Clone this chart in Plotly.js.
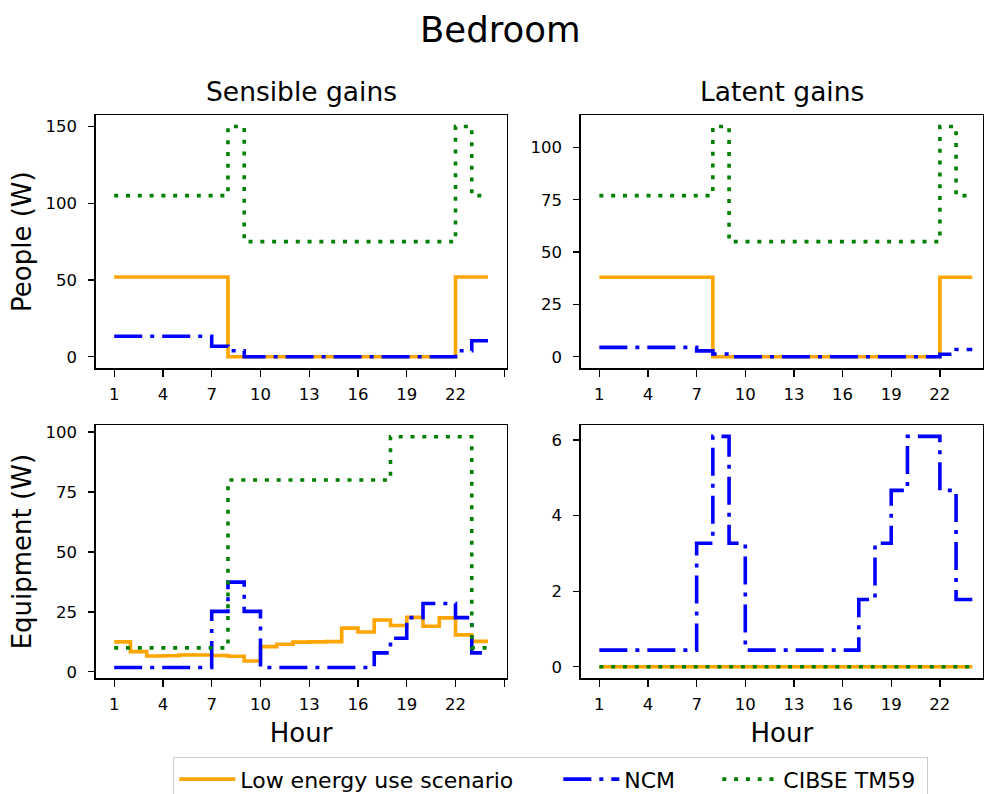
<!DOCTYPE html>
<html>
<head>
<meta charset="utf-8">
<script src="https://cdn.plot.ly/plotly-3.0.1.min.js"></script>
<style>
  html, body { margin: 0; padding: 0; background: #ffffff; overflow: hidden; }
  #chart { width: 987px; height: 794px; overflow: hidden; }
</style>
</head>
<body>
<div id="chart"></div>
<script>
// ---- data ----
const hours = [1, 2, 3, 4, 5, 6, 7, 8, 9, 10, 11, 12, 13, 14, 15, 16, 17, 18, 19, 20, 21, 22, 23, 24];

const seriesNames = ["Low energy use scenario", "NCM", "CIBSE TM59"];

// People, sensible gains (W)
const peopleSensibleLow  = [52, 52, 52, 52, 52, 52, 52, 0, 0, 0, 0, 0, 0, 0, 0, 0, 0, 0, 0, 0, 0, 52, 52, 52];
const peopleSensibleNCM  = [13.4, 13.4, 13.4, 13.4, 13.4, 13.4, 6.9, 3.9, 0, 0, 0, 0, 0, 0, 0, 0, 0, 0, 0, 0, 0, 3.9, 10.4, 10.4];
const peopleSensibleTM59 = [105, 105, 105, 105, 105, 105, 105, 150, 75, 75, 75, 75, 75, 75, 75, 75, 75, 75, 75, 75, 75, 150, 105, 105];

// People, latent gains (W)
const peopleLatentLow  = [38, 38, 38, 38, 38, 38, 38, 0, 0, 0, 0, 0, 0, 0, 0, 0, 0, 0, 0, 0, 0, 38, 38, 38];
const peopleLatentNCM  = [4.5, 4.5, 4.5, 4.5, 4.5, 4.5, 2.8, 1.3, 0, 0, 0, 0, 0, 0, 0, 0, 0, 0, 0, 0, 0, 1.2, 3.5, 3.5];
const peopleLatentTM59 = [77, 77, 77, 77, 77, 77, 77, 110, 55, 55, 55, 55, 55, 55, 55, 55, 55, 55, 55, 55, 55, 110, 77, 77];

// Equipment, sensible gains (W)
const equipSensibleLow  = [12.5, 8.4, 6.6, 6.7, 7.0, 7.0, 6.8, 6.5, 4.5, 10.5, 11.5, 12.4, 12.5, 12.6, 18.2, 16.6, 21.6, 19.3, 22.7, 19.0, 22.5, 15.4, 12.7, 12.7];
const equipSensibleNCM  = [1.8, 1.8, 1.8, 1.8, 1.8, 1.8, 25.2, 37.4, 25.2, 1.8, 1.8, 1.8, 1.8, 1.8, 1.8, 1.8, 7.9, 14.0, 22.6, 28.5, 28.5, 22.6, 7.9, 7.9];
const equipSensibleTM59 = [10, 10, 10, 10, 10, 10, 10, 80, 80, 80, 80, 80, 80, 80, 80, 80, 80, 98, 98, 98, 98, 98, 10, 10];

// Equipment, latent gains (W)
const equipLatentLow  = [0, 0, 0, 0, 0, 0, 0, 0, 0, 0, 0, 0, 0, 0, 0, 0, 0, 0, 0, 0, 0, 0, 0, 0];
const equipLatentNCM  = [0.44, 0.44, 0.44, 0.44, 0.44, 0.44, 3.27, 6.1, 3.27, 0.44, 0.44, 0.44, 0.44, 0.44, 0.44, 0.44, 1.78, 3.27, 4.67, 6.1, 6.1, 4.67, 1.78, 1.78];
const equipLatentTM59 = [0, 0, 0, 0, 0, 0, 0, 0, 0, 0, 0, 0, 0, 0, 0, 0, 0, 0, 0, 0, 0, 0, 0, 0];

// tick labels
const xTickValsLeft  = [1, 4, 7, 10, 13, 16, 19, 22, 25];
const xTickTextLeft  = ["1", "4", "7", "10", "13", "16", "19", "22", ""];
const xTickValsRight = [1, 4, 7, 10, 13, 16, 19, 22];
const xTickTextRight = ["1", "4", "7", "10", "13", "16", "19", "22"];
const yTicksPeopleSensible = [0, 50, 100, 150];
const yTicksPeopleLatent   = [0, 25, 50, 75, 100];
const yTicksEquipSensible  = [0, 25, 50, 75, 100];
const yTicksEquipLatent    = [0, 2, 4, 6];

// ---- styles ----
const FONT = "DejaVu Sans, Noto Sans, sans-serif";
const styles = [
  {color: "#FFA500", width: 3.6, dash: "solid", legendwidth: 313},
  {color: "#0000FF", width: 3.6, dash: "28px,8px,4px,8px", legendwidth: 88},
  {color: "#008000", width: 3.6, dash: "4px,7.8px", legendwidth: 138}
];

function panelTraces(xa, ya, ys, showLegend) {
  return ys.map(function (y, i) {
    return {
      type: "scatter", mode: "lines",
      x: hours, y: y,
      xaxis: xa, yaxis: ya,
      name: seriesNames[i],
      legendgroup: seriesNames[i],
      showlegend: showLegend,
      line: {shape: "hv", color: styles[i].color, width: styles[i].width, dash: styles[i].dash},
      legendwidth: styles[i].legendwidth,
      hoverinfo: "x+y+name"
    };
  });
}

const data = []
  .concat(panelTraces("x",  "y",  [peopleSensibleLow, peopleSensibleNCM, peopleSensibleTM59], true))
  .concat(panelTraces("x2", "y2", [peopleLatentLow, peopleLatentNCM, peopleLatentTM59], false))
  .concat(panelTraces("x3", "y3", [equipSensibleLow, equipSensibleNCM, equipSensibleTM59], false))
  .concat(panelTraces("x4", "y4", [equipLatentLow, equipLatentNCM, equipLatentTM59], false));

const W = 987, H = 794;
function px2x(p) { return p / W; }
function px2y(p) { return 1 - p / H; }

const domXL = [px2x(95.5), px2x(506.7)];
const domXR = [px2x(580.7), px2x(983)];
const domYT = [px2y(368.3), px2y(115)];
const domYB = [px2y(678.3), px2y(425)];

function xAxis(domain, range, tv, tt, anchor, title) {
  const ax = {
    domain: domain, range: range, anchor: anchor,
    tickmode: "array", tickvals: tv, ticktext: tt,
    showline: true, mirror: true, linecolor: "#000000", linewidth: 1.3,
    ticks: "outside", ticklen: 7, tickwidth: 1.3, tickcolor: "#000000",
    ticklabelstandoff: 4,
    showgrid: false, zeroline: false,
    tickfont: {family: FONT, size: 16.5, color: "#000000"},
    fixedrange: true
  };
  if (title) ax.title = {text: title, font: {family: FONT, size: 26, color: "#000000"}, standoff: 10};
  return ax;
}
function yAxis(domain, range, tv, anchor, title) {
  const ax = {
    domain: domain, range: range, anchor: anchor,
    tickmode: "array", tickvals: tv, ticktext: tv.map(String),
    showline: true, mirror: true, linecolor: "#000000", linewidth: 1.3,
    ticks: "outside", ticklen: 6, tickwidth: 1.3, tickcolor: "#000000",
    ticklabelstandoff: 8,
    showgrid: false, zeroline: false,
    tickfont: {family: FONT, size: 16.5, color: "#000000"},
    fixedrange: true
  };
  if (title) ax.title = {text: title, font: {family: FONT, size: 26, color: "#000000"}, standoff: 6};
  return ax;
}

const layout = {
  width: W, height: H,
  margin: {l: 0, r: 0, t: 0, b: 0, autoexpand: false},
  paper_bgcolor: "#ffffff", plot_bgcolor: "#ffffff",
  font: {family: FONT, color: "#000000"},
  showlegend: true,
  xaxis:  xAxis(domXL, [-0.15, 25.15], xTickValsLeft,  xTickTextLeft,  "y"),
  xaxis2: xAxis(domXR, [-0.15, 24.66], xTickValsRight, xTickTextRight, "y2"),
  xaxis3: xAxis(domXL, [-0.15, 25.15], xTickValsLeft,  xTickTextLeft,  "y3", "Hour"),
  xaxis4: xAxis(domXR, [-0.15, 24.66], xTickValsRight, xTickTextRight, "y4", "Hour"),
  yaxis:  yAxis(domYT, [-7.5, 157.5], yTicksPeopleSensible, "x", "People (W)"),
  yaxis2: yAxis(domYT, [-5.5, 115.5], yTicksPeopleLatent, "x2"),
  yaxis3: yAxis(domYB, [-2.7, 102.9], yTicksEquipSensible, "x3", "Equipment (W)"),
  yaxis4: yAxis(domYB, [-0.305, 6.4], yTicksEquipLatent, "x4"),
  legend: {
    orientation: "h",
    x: px2x(173), xanchor: "left",
    y: px2y(757), yanchor: "top",
    bgcolor: "rgba(255,255,255,0.8)",
    bordercolor: "#cccccc", borderwidth: 1.3,
    font: {family: FONT, size: 22, color: "#000000"},
    itemwidth: 56,
    traceorder: "normal"
  },
  annotations: [
    {text: "Bedroom", xref: "paper", yref: "paper", x: px2x(500), y: px2y(29), xanchor: "center", yanchor: "middle",
     showarrow: false, font: {family: FONT, size: 35.5, color: "#000000"}},
    {text: "Sensible gains", xref: "paper", yref: "paper", x: px2x(301), y: px2y(92), xanchor: "center", yanchor: "middle",
     showarrow: false, font: {family: FONT, size: 26.5, color: "#000000"}},
    {text: "Latent gains", xref: "paper", yref: "paper", x: px2x(782), y: px2y(92), xanchor: "center", yanchor: "middle",
     showarrow: false, font: {family: FONT, size: 26.5, color: "#000000"}}
  ]
};

Plotly.newPlot("chart", data, layout, {displayModeBar: false, staticPlot: true});
</script>
</body>
</html>
